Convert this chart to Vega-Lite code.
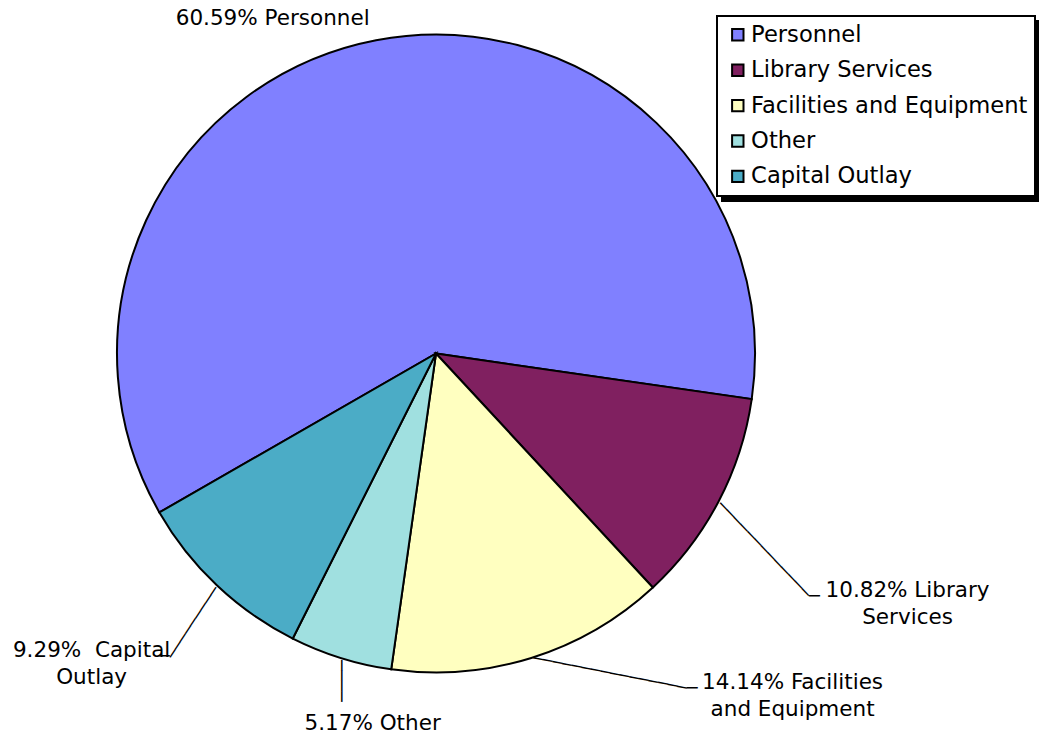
{
  "$schema": "https://vega.github.io/schema/vega-lite/v6.json",
  "width": 872,
  "height": 707,
  "autosize": {"type": "none"},
  "padding": {"left": 0, "top": 0, "right": 167, "bottom": 29},
  "background": "white",
  "data": {
    "values": [
      {"category": "Personnel", "value": 60.59, "order": 1, "label": "60.59% Personnel"},
      {"category": "Library Services", "value": 10.82, "order": 2, "label": "10.82% Library\nServices"},
      {"category": "Facilities and Equipment", "value": 14.14, "order": 3, "label": "14.14% Facilities\nand Equipment"},
      {"category": "Other", "value": 5.17, "order": 4, "label": "5.17% Other"},
      {"category": "Capital Outlay", "value": 9.29, "order": 5, "label": "9.29%\u00a0 Capital\nOutlay"}
    ]
  },
  "encoding": {
    "theta": {"field": "value", "type": "quantitative", "stack": true, "scale": {"range": [-2.0923, 4.1909]}},
    "order": {"field": "order", "type": "quantitative"}
  },
  "layer": [
    {
      "mark": {"type": "arc", "radius": 319, "stroke": "#000", "strokeWidth": 2},
      "encoding": {
        "fill": {
          "field": "category", "type": "nominal",
          "scale": {
            "domain": ["Personnel", "Library Services", "Facilities and Equipment", "Other", "Capital Outlay"],
            "range": ["#8080FF", "#802060", "#FFFFC0", "#A0E0E0", "#4BACC6"]
          },
          "legend": {"legendX": 717, "legendY": 16, "fillColor": "#FFFFFF", "zindex": 2, "labelOffset": 2}
        }
      }
    },
    {
      "mark": {"type": "arc", "radius": 319, "opacity": 0},
      "encoding": {
        "stroke": {
          "field": "category", "type": "nominal",
          "scale": {"range": ["#000"]},
          "legend": {"legendX": 722, "legendY": 21, "fillColor": "#000000", "zindex": 1, "labelExpr": "''", "labelOffset": 280.5}
        }
      }
    },
    {
      "mark": {"type": "text", "radius": 319, "dx": -103.4, "dy": -15.2, "align": "center", "baseline": "alphabetic", "font": "DejaVu Sans", "fontSize": 21.5, "lineHeight": 27, "lineBreak": "\n", "color": "#000"},
      "encoding": {"text": {"condition": {"test": "datum.category === 'Personnel'", "field": "label"}, "value": ""}}
    },
    {
      "mark": {"type": "text", "radius": 319, "dx": 189.1, "dy": 95.4, "align": "center", "baseline": "alphabetic", "font": "DejaVu Sans", "fontSize": 21.5, "lineHeight": 27, "lineBreak": "\n", "color": "#000"},
      "encoding": {"text": {"condition": {"test": "datum.category === 'Library Services'", "field": "label"}, "value": ""}}
    },
    {
      "mark": {"type": "text", "radius": 319, "dx": 261.3, "dy": 31, "align": "center", "baseline": "alphabetic", "font": "DejaVu Sans", "fontSize": 21.5, "lineHeight": 27, "lineBreak": "\n", "color": "#000"},
      "encoding": {"text": {"condition": {"test": "datum.category === 'Facilities and Equipment'", "field": "label"}, "value": ""}}
    },
    {
      "mark": {"type": "text", "radius": 319, "dx": 31.9, "dy": 72.1, "align": "center", "baseline": "alphabetic", "font": "DejaVu Sans", "fontSize": 21.5, "lineHeight": 27, "lineBreak": "\n", "color": "#000"},
      "encoding": {"text": {"condition": {"test": "datum.category === 'Other'", "field": "label"}, "value": ""}}
    },
    {
      "mark": {"type": "text", "radius": 319, "dx": -125.2, "dy": 71.6, "align": "center", "baseline": "alphabetic", "font": "DejaVu Sans", "fontSize": 21.5, "lineHeight": 27, "lineBreak": "\n", "color": "#000"},
      "encoding": {"text": {"condition": {"test": "datum.category === 'Capital Outlay'", "field": "label"}, "value": ""}}
    },
    {
      "mark": {"type": "text", "radius": 319, "angle": 46.4, "dx": 2, "align": "left", "baseline": "middle", "font": "DejaVu Sans", "fontSize": 16.36, "color": "#000"},
      "encoding": {"text": {"condition": {"test": "datum.category === 'Library Services'", "value": "─────────────"}, "value": ""}}
    },
    {
      "mark": {"type": "text", "radius": 319, "angle": 11.17, "dx": 2, "align": "left", "baseline": "middle", "font": "DejaVu Sans", "fontSize": 16.24, "color": "#000"},
      "encoding": {"text": {"condition": {"test": "datum.category === 'Facilities and Equipment'", "value": "────────────────"}, "value": ""}}
    },
    {
      "mark": {"type": "text", "radius": 319, "angle": 90, "dx": 2, "align": "left", "baseline": "middle", "font": "DejaVu Sans", "fontSize": 17.3, "color": "#000"},
      "encoding": {"text": {"condition": {"test": "datum.category === 'Other'", "value": "────"}, "value": ""}}
    },
    {
      "mark": {"type": "text", "radius": 319, "angle": 123.3, "dx": 2, "align": "left", "baseline": "middle", "font": "DejaVu Sans", "fontSize": 15.47, "color": "#000"},
      "encoding": {"text": {"condition": {"test": "datum.category === 'Capital Outlay'", "value": "─────────"}, "value": ""}}
    },
    {
      "mark": {"type": "text", "radius": 319, "dx": 90.6, "dy": 94.8, "align": "left", "baseline": "middle", "font": "DejaVu Sans", "fontSize": 18, "color": "#000"},
      "encoding": {"text": {"condition": {"test": "datum.category === 'Library Services'", "value": "─"}, "value": ""}}
    },
    {
      "mark": {"type": "text", "radius": 319, "dx": 155.5, "dy": 31.3, "align": "left", "baseline": "middle", "font": "DejaVu Sans", "fontSize": 18, "color": "#000"},
      "encoding": {"text": {"condition": {"test": "datum.category === 'Facilities and Equipment'", "value": "─"}, "value": ""}}
    },
    {
      "mark": {"type": "text", "radius": 319, "dx": -58, "dy": 72.2, "align": "left", "baseline": "middle", "font": "DejaVu Sans", "fontSize": 18, "color": "#000"},
      "encoding": {"text": {"condition": {"test": "datum.category === 'Capital Outlay'", "value": "─"}, "value": ""}}
    }
  ],
  "config": {
    "view": {"stroke": null},
    "legend": {
      "title": null,
      "orient": "none",
      "labelFont": "DejaVu Sans",
      "labelFontSize": 22.6,
      "labelColor": "#000",
      "labelLimit": 400,
      "symbolType": "square",
      "symbolSize": 130,
      "symbolStrokeWidth": 2,
      "symbolStrokeColor": "#000",
      "rowPadding": 12.4,
      "padding": 7.5,
      "symbolOffset": 2,
      "strokeColor": "#000",
      "strokeWidth": 2
    }
  }
}
